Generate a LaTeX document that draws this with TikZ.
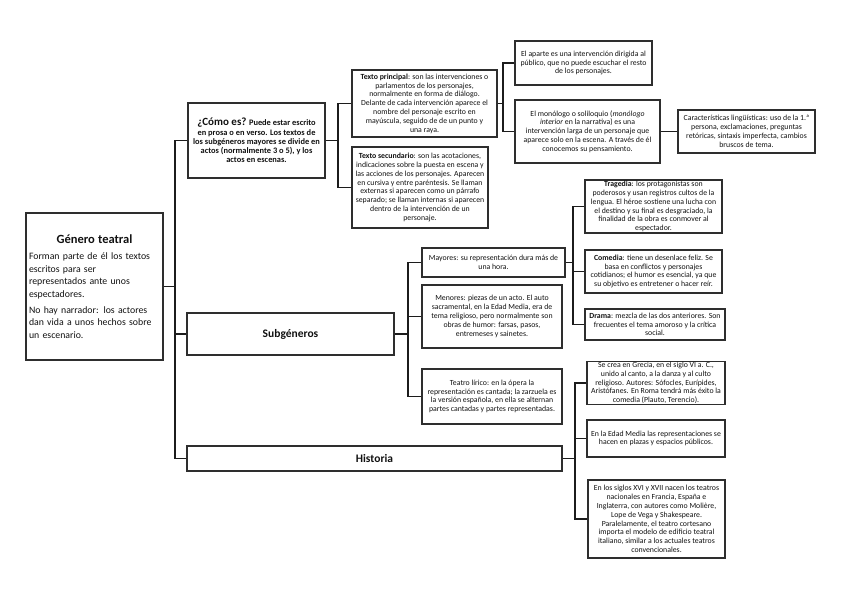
\documentclass[tikz,border=0pt]{standalone}
\usepackage{fontspec}
\setmainfont{Carlito}
\usepackage{xcolor}
\usepackage{tikz}
\definecolor{GTBox}{HTML}{2E2E2E}
\definecolor{GTLine}{HTML}{1C1C1C}
\definecolor{GTText}{HTML}{111111}

\begin{document}
\begin{tikzpicture}[x=1pt,y=-1pt,
  gtbox/.style={draw=GTBox,line width=1.1pt,align=center,inner sep=1pt,text=GTText,font=\fontsize{7.8}{8.8}\selectfont},
  gthead/.style={gtbox,font=\fontsize{11.5}{14}\selectfont\bfseries},
  gtlink/.style={draw=GTLine,line width=1.1pt}]
\path[use as bounding box] (0,0) rectangle (848,599);
\node[gtbox,minimum width=137pt,minimum height=147pt,text width=131pt,align=left,inner sep=1.5pt,font=\fontsize{9.8}{12.4}\selectfont] (genero) at (94.5,286.5) {{\centering\fontsize{12.5}{15}\selectfont\bfseries Género teatral\par}\vspace{4pt}Forman parte de él los textos\\ escritos para ser\\ representados ante unos\\ espectadores.\par\vspace{4pt}No hay narrador: los actores\\ dan vida a unos hechos sobre\\ un escenario.};
\node[gtbox,minimum width=137pt,minimum height=75pt,font=\fontsize{8.4}{9.2}\selectfont\bfseries] (como) at (256.5,140.5) {{\fontsize{11}{12}\selectfont ¿Cómo es?} Puede estar escrito\\ en prosa o en verso. Los textos de\\ los subgéneros mayores se divide en\\ actos (normalmente 3 o 5), y los\\ actos en escenas.};
\node[gthead,minimum width=207pt,minimum height=42pt] (subg) at (290.5,334) {Subgéneros};
\node[gthead,minimum width=375pt,minimum height=25pt] (hist) at (374.5,458.5) {Historia};
\node[gtbox,minimum width=145pt,minimum height=67pt] (tprin) at (424.5,103.5) {\textbf{Texto principal}: son las intervenciones o\\ parlamentos de los personajes,\\ normalmente en forma de diálogo.\\ Delante de cada intervención aparece el\\ nombre del personaje escrito en\\ mayúscula, seguido de de un punto y\\ una raya.};
\node[gtbox,minimum width=136pt,minimum height=81pt] (tsec) at (420,187.5) {\textbf{Texto secundario}: son las acotaciones,\\ indicaciones sobre la puesta en escena y\\ las acciones de los personajes. Aparecen\\ en cursiva y entre paréntesis. Se llaman\\ externas si aparecen como un párrafo\\ separado; se llaman internas si aparecen\\ dentro de la intervención de un\\ personaje.};
\node[gtbox,minimum width=137pt,minimum height=44pt] (aparte) at (583.5,63) {El aparte es una intervención dirigida al\\ público, que no puede escuchar el resto\\ de los personajes.};
\node[gtbox,minimum width=145pt,minimum height=63pt] (mono) at (587.5,131.5) {El monólogo o soliloquio (\textit{monólogo}\\ \textit{interior} en la narrativa) es una\\ intervención larga de un personaje que\\ aparece solo en la escena. A través de él\\ conocemos su pensamiento.};
\node[gtbox,minimum width=137pt,minimum height=43pt] (carac) at (746.5,131.5) {Características lingüísticas: uso de la 1.ª\\ persona, exclamaciones, preguntas\\ retóricas, sintaxis imperfecta, cambios\\ bruscos de tema.};
\node[gtbox,minimum width=143pt,minimum height=29pt] (mayores) at (493.5,262.5) {Mayores: su representación dura más de\\ una hora.};
\node[gtbox,minimum width=140pt,minimum height=63pt] (menores) at (492,316.5) {Menores: piezas de un acto. El auto\\ sacramental, en la Edad Media, era de\\ tema religioso, pero normalmente son\\ obras de humor: farsas, pasos,\\ entremeses y sainetes.};
\node[gtbox,minimum width=140pt,minimum height=55pt] (lirico) at (492,396.5) {Teatro lírico: en la ópera la\\ representación es cantada; la zarzuela es\\ la versión española, en ella se alternan\\ partes cantadas y partes representadas.};
\node[gtbox,minimum width=137pt,minimum height=53pt] (trag) at (653.5,206.5) {\textbf{Tragedia}: los protagonistas son\\ poderosos y usan registros cultos de la\\ lengua. El héroe sostiene una lucha con\\ el destino y su final es desgraciado, la\\ finalidad de la obra es conmover al\\ espectador.};
\node[gtbox,minimum width=137pt,minimum height=43pt] (come) at (653.5,271.5) {\textbf{Comedia}: tiene un desenlace feliz. Se\\ basa en conflictos y personajes\\ cotidianos; el humor es esencial, ya que\\ su objetivo es entretener o hacer reír.};
\node[gtbox,minimum width=140pt,minimum height=31pt] (drama) at (655,324.5) {\textbf{Drama}: mezcla de las dos anteriores. Son\\ frecuentes el tema amoroso y la crítica\\ social.};
\node[gtbox,minimum width=138pt,minimum height=42pt] (grecia) at (656,383) {Se crea en Grecia, en el siglo VI a. C.,\\ unido al canto, a la danza y al culto\\ religioso. Autores: Sófocles, Eurípides,\\ Aristófanes. En Roma tendrá más éxito la\\ comedia (Plauto, Terencio).};
\node[gtbox,minimum width=138pt,minimum height=37pt] (edad) at (656,438.5) {En la Edad Media las representaciones se\\ hacen en plazas y espacios públicos.};
\node[gtbox,minimum width=137pt,minimum height=78pt] (siglos) at (656.5,519) {En los siglos XVI y XVII nacen los teatros\\ nacionales en Francia, España e\\ Inglaterra, con autores como Molière,\\ Lope de Vega y Shakespeare.\\ Paralelamente, el teatro cortesano\\ importa el modelo de edificio teatral\\ italiano, similar a los actuales teatros\\ convencionales.};
\coordinate (j1) at (175,286.5);
\coordinate (j2) at (338,140.5);
\coordinate (j3) at (503,103.5);
\coordinate (j4) at (408,334);
\coordinate (j5) at (573,262.5);
\coordinate (j6) at (575,458.5);
\draw[gtlink] (genero.east) -- (j1);
\draw[gtlink] (j1) |- (como.west);
\draw[gtlink] (j1) |- (subg.west);
\draw[gtlink] (j1) |- (hist.west);
\draw[gtlink] (como.east) -- (j2);
\draw[gtlink] (j2) |- (tprin.west);
\draw[gtlink] (j2) |- (tsec.west);
\draw[gtlink] (tprin.east) -- (j3);
\draw[gtlink] (j3) |- (aparte.west);
\draw[gtlink] (j3) |- (mono.west);
\draw[gtlink] (mono.east) -- (carac.west);
\draw[gtlink] (subg.east) -- (j4);
\draw[gtlink] (j4) |- (mayores.west);
\draw[gtlink] (j4) |- (menores.west);
\draw[gtlink] (j4) |- (lirico.west);
\draw[gtlink] (mayores.east) -- (j5);
\draw[gtlink] (j5) |- (trag.west);
\draw[gtlink] (j5) |- (come.west);
\draw[gtlink] (j5) |- (drama.west);
\draw[gtlink] (hist.east) -- (j6);
\draw[gtlink] (j6) |- (grecia.west);
\draw[gtlink] (j6) |- (edad.west);
\draw[gtlink] (j6) |- (siglos.west);
\end{tikzpicture}
\end{document}
